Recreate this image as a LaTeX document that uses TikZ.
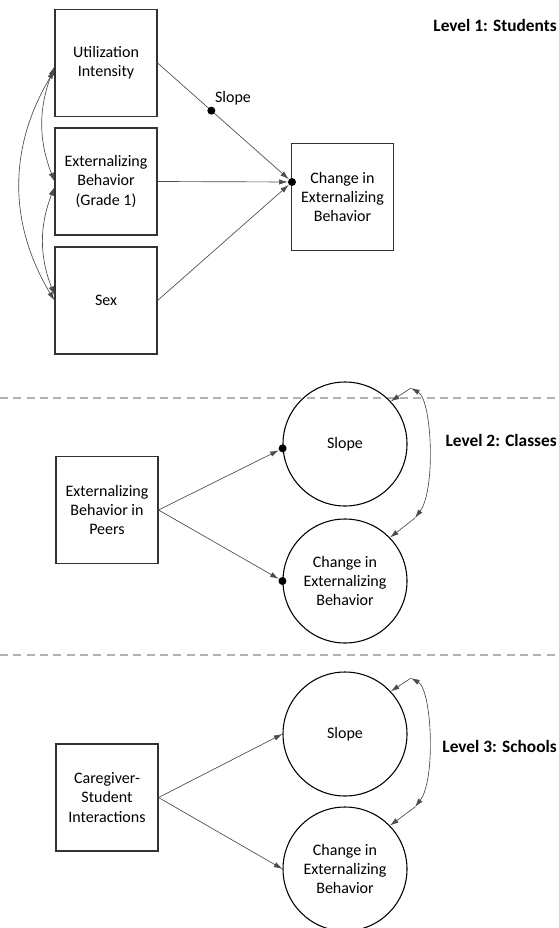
\documentclass[tikz,border=0pt]{standalone}
\usepackage{fontspec}
\setmainfont{Carlito}
\usetikzlibrary{arrows.meta}

\begin{document}
\begin{tikzpicture}
		[
		x=0.75pt, y=-0.75pt, font=\fontsize{12}{14.3}\selectfont, >={Latex[length=6.5pt,width=4pt]},
		%Stile
		kasten/.style={draw=black!80, line width=0.8pt, minimum width=76.5pt, minimum height=80.25pt, align=center, inner sep=2pt},
		kreis/.style={circle, draw=black, line width=0.8pt, minimum size=93pt, align=center, inner sep=0pt},
		punkt/.style={circle, fill=black, inner sep=0pt, minimum size=6pt},
		linie/.style={black!70, line width=0.5pt},
		ebene/.style={anchor=east, inner sep=0pt, font=\fontsize{13}{15}\selectfont\bfseries},
		trenn/.style={gray!60, line width=0.8pt, dash pattern=on 6pt off 4pt}
		]
		
		\useasboundingbox (0,0) rectangle (558,928);
		
		%Trennlinien
		\draw[trenn] (0,398) -- (558,398);
		\draw[trenn] (0,655) -- (558,655);
		
		%Ebene 1
		\node[ebene] (lev1) at (557,25) {Level 1: Students};
		\node[kasten] (util) at (106,63) {Utilization\\Intensity};
		\node[kasten] (ext) at (106,181.5) {Externalizing\\Behavior\\(Grade 1)};
		\node[kasten] (sex) at (106,300.5) {Sex};
		\node[kasten] (chg) at (342.5,197) {Change in\\Externalizing\\Behavior};
		\node[punkt] (d1) at (292,182) {};
		
		\draw[->, linie] (util.east) -- (d1) node[punkt, pos=0.41] (sdot) {};
		\node (slab) at (233,98) {Slope};
		\draw[->, linie] (ext.east) -- (d1);
		\draw[->, linie] (sex.east) -- (d1);
		
		%Kovarianzen
		\draw[<->, linie] (util.184) to[bend right=21] (ext.180);
		\draw[<->, linie] (ext.186) to[bend right=21] (sex.174);
		\draw[<->, linie] (util.188) to[bend right=31] (sex.180);
		
		%Ebene 2
		\node[ebene] (lev2) at (557,440) {Level 2: Classes};
		\node[kasten] (peers) at (107,510) {Externalizing\\Behavior in\\Peers};
		\node[kreis] (s2) at (345,444) {Slope};
		\node[kreis] (c2) at (345,581) {Change in\\Externalizing\\Behavior};
		\node[punkt] (d2s) at (s2.184) {};
		\node[punkt] (d2c) at (c2.west) {};
		\draw[->, linie] (peers.east) -- (d2s);
		\draw[->, linie] (peers.east) -- (d2c);
		
		\coordinate (k2o) at (411,388);
		\coordinate (k2u) at (415,518);
		\draw[<->, linie] (k2o) .. controls (432,400) and (436,490) .. (k2u);
		\draw[->, linie] (k2o) -- (s2.43);
		\draw[->, linie] (k2u) -- (c2.44);
		
		%Ebene 3
		\node[ebene] (lev3) at (557,746) {Level 3: Schools};
		\node[kasten] (care) at (107,797.5) {Caregiver-\\Student\\Interactions};
		\node[kreis] (s3) at (345,734) {Slope};
		\node[kreis] (c3) at (345,869) {Change in\\Externalizing\\Behavior};
		\draw[->, linie] (care.east) -- (s3.west);
		\draw[->, linie] (care.east) -- (c3.west);
		
		\coordinate (k3o) at (411,678);
		\coordinate (k3u) at (415,807);
		\draw[<->, linie] (k3o) .. controls (432,690) and (436,780) .. (k3u);
		\draw[->, linie] (k3o) -- (s3.43);
		\draw[->, linie] (k3u) -- (c3.44);
		
\end{tikzpicture}
\end{document}
